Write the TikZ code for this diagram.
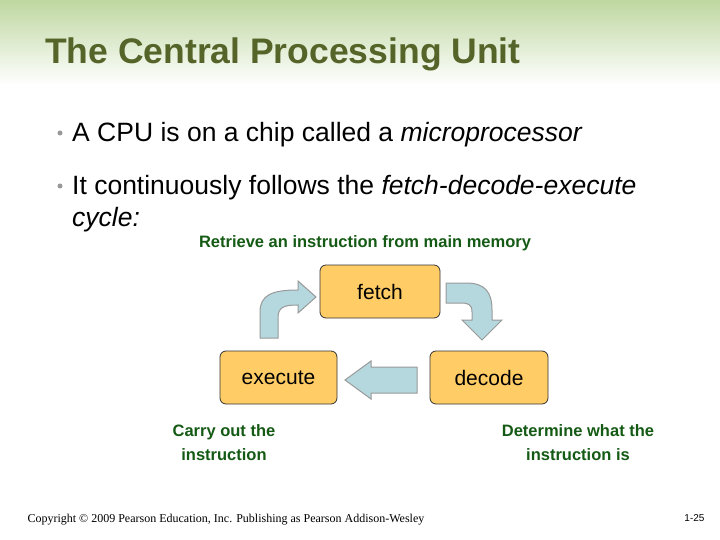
\documentclass[tikz,border=0pt]{standalone}
\usepackage{fontspec}
\setmainfont{Liberation Sans}
\newfontfamily\serifft{Liberation Serif}
\begin{document}
\begin{tikzpicture}[x=1pt,y=-1pt,
  box/.style={draw=black!80,line width=0.8pt,fill={rgb,255:red,255;green,204;blue,102},rounded corners=6pt,inner sep=0pt,font=\fontsize{21}{24}\selectfont},
  arr/.style={draw=gray!80,line width=1pt,fill={rgb,255:red,180;green,216;blue,222}},
  lbl/.style={font=\bfseries\fontsize{16.5}{24}\selectfont,text={rgb,255:red,20;green,90;blue,20},align=center},
  bul/.style={anchor=base west,font=\fontsize{26.5}{30}\selectfont}]
\useasboundingbox (0,0) rectangle (720,540);
\shade[top color={rgb,255:red,190;green,215;blue,160},bottom color=white] (0,0) rectangle (720,85);
\node[anchor=base west,inner sep=0pt,font=\bfseries\fontsize{35.5}{38}\selectfont,text={rgb,255:red,85;green,100;blue,40}] (title) at (45,64) {The Central Processing Unit};
\node[bul,inner sep=0pt] (b1) at (72,142) {A CPU is on a chip called a \textit{microprocessor}};
\node[bul,inner sep=0pt] (b2) at (72,195) {It continuously follows the \textit{fetch-decode-execute}};
\node[bul,inner sep=0pt] (b3) at (72,226) {\textit{cycle:}};
\fill[gray!80] (60,133) circle (2.5) (60,186) circle (2.5);
\node[box,minimum width=120,minimum height=53] (fetch) at (380,291.5) {fetch};
\node[box,minimum width=117,minimum height=53] (execute) at (278.5,377.5) {execute};
\node[box,minimum width=118,minimum height=53] (decode) at (489,377.5) {decode};
\draw[arr] (417,367) -- (371,367) -- (371,361) -- (345,380) -- (371,399) -- (371,393) -- (417,393) -- cycle;
\draw[arr] (260,338) -- (260,312) .. controls (260,295) and (272,290) .. (298,290) -- (298,281) -- (316,297) -- (298,313) -- (298,305) .. controls (284,305) and (278,307) .. (278,318) -- (278,338) -- cycle;
\draw[arr] (446,283) -- (466,283) .. controls (485,283) and (492,292) .. (492,310) -- (492,320) -- (502,320) -- (482,340) -- (462,320) -- (472,320) -- (472,312) .. controls (472,304) and (468,303) .. (460,303) -- (446,303) -- cycle;
\node[lbl] (l1) at (365,243) {Retrieve an instruction from main memory};
\node[lbl] (l2) at (224,443) {Carry out the\\instruction};
\node[lbl] (l3) at (578,443) {Determine what the\\instruction is};
\node[anchor=base west,font=\serifft\fontsize{12}{14}\selectfont] (copy) at (24,522) {Copyright © 2009 Pearson Education, Inc. Publishing as Pearson Addison-Wesley};
\node[anchor=base east,font=\fontsize{10}{12}\selectfont] (pg) at (708,521) {1-25};
\end{tikzpicture}
\end{document}
